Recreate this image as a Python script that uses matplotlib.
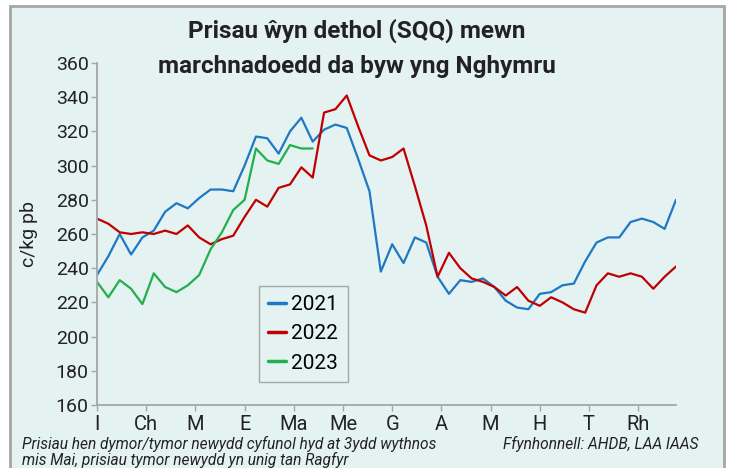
import numpy as np
import matplotlib

matplotlib.use("Agg")
import matplotlib.pyplot as plt
from matplotlib.patches import Rectangle

plt.rcParams["font.family"] = ["Roboto", "DejaVu Sans"]

MONTHS = ["I", "Ch", "M", "E", "Ma", "Me", "G", "A", "M", "H", "T", "Rh"]
YEARS = ["2021", "2022", "2023"]
COLORS = ["#1f78c4", "#c00000", "#21b04b"]

# weekly SQQ prices, c/kg lw
price_2021 = [236, 247, 260, 248, 258, 262, 273, 278, 275, 281,
              286, 286, 285, 300, 317, 316, 307, 320, 328, 314,
              321, 324, 322, 304, 285, 238, 254, 243, 258, 255,
              235, 225, 233, 232, 234, 229, 221, 217, 216, 225,
              226, 230, 231, 244, 255, 258, 258, 267, 269, 267,
              263, 280]
price_2022 = [269, 266, 261, 260, 261, 260, 262, 260, 265, 258,
              254, 257, 259, 270, 280, 276, 287, 289, 299, 293,
              331, 333, 341, 323, 306, 303, 305, 310, 288, 265,
              235, 249, 240, 234, 232, 229, 224, 229, 221, 218,
              223, 220, 216, 214, 230, 237, 235, 237, 235, 228,
              235, 241]
price_2023 = [232, 223, 233, 228, 219, 237, 229, 226, 230, 236,
              251, 261, 274, 280, 310, 303, 301, 312, 310, 310]

BG = "#e4f2f2"
TXT = "#222222"
GRID = "#a6a6a6"

fig = plt.figure(figsize=(7.29, 4.68), dpi=100)
fig.patch.set_facecolor("white")

# panel background with grey frame (runs off the bottom edge)
bg = fig.add_axes([0, 0, 1, 1], zorder=-1)
bg.set_axis_off()
bg.set_xlim(0, 729)
bg.set_ylim(468, 0)
bg.add_patch(Rectangle((10, 6), 714, 500, facecolor=BG, edgecolor=GRID, linewidth=2))

ax = fig.add_axes([97 / 729, 1 - 405 / 468, 579 / 729, 342 / 468])
ax.set_facecolor("none")

for year, series, color in zip(YEARS, [price_2021, price_2022, price_2023], COLORS):
    ax.plot(np.arange(len(series)), series, color=color, lw=1.6, label=year,
            solid_joinstyle="round", solid_capstyle="round")

ax.set_xlim(0, 51)
ax.set_ylim(160, 360)
ax.set_yticks(range(160, 361, 20))
ax.set_xticks(np.arange(12) * 52 / 12, MONTHS)
for s in ["top", "right"]:
    ax.spines[s].set_visible(False)
for s in ["left", "bottom"]:
    ax.spines[s].set_color(GRID)
    ax.spines[s].set_linewidth(1.3)
ax.tick_params(colors=GRID, labelcolor=TXT, length=4, width=1)
ax.tick_params(axis="y", labelsize=14, pad=2)
ax.tick_params(axis="x", labelsize=14.5, pad=3)
ax.set_ylabel("c/kg pb", fontsize=14, color=TXT)
ax.yaxis.set_label_coords(-0.102, 0.5)

leg = ax.legend(loc="lower left", bbox_to_anchor=(0.28, 0.067), borderaxespad=0,
                fontsize=15, handlelength=0.85, handletextpad=0.25, labelspacing=0.5,
                fancybox=False, framealpha=1, facecolor=BG, edgecolor=GRID,
                borderpad=0.45)
for h in leg.get_lines():
    h.set_linewidth(2.5)

fig.text(0.49, 1 - 31 / 468, "Prisau ŵyn dethol (SQQ) mewn", ha="center", va="center",
         fontsize=17.5, fontweight="bold", color=TXT)
fig.text(0.49, 1 - 67 / 468, "marchnadoedd da byw yng Nghymru", ha="center", va="center",
         fontsize=17.5, fontweight="bold", color=TXT)

fig.text(22 / 729, 1 - 444 / 468, "Prisiau hen dymor/tymor newydd cyfunol hyd at 3ydd wythnos",
         ha="left", va="center", fontsize=11.2, style="italic", color=TXT)
fig.text(22 / 729, 1 - 460 / 468, "mis Mai, prisiau tymor newydd yn unig tan Ragfyr",
         ha="left", va="center", fontsize=11.2, style="italic", color=TXT)
fig.text(698 / 729, 1 - 444 / 468, "Ffynhonnell: AHDB, LAA IAAS",
         ha="right", va="center", fontsize=11.2, style="italic", color=TXT)

fig.savefig("out.png", dpi=100, facecolor=fig.get_facecolor())
